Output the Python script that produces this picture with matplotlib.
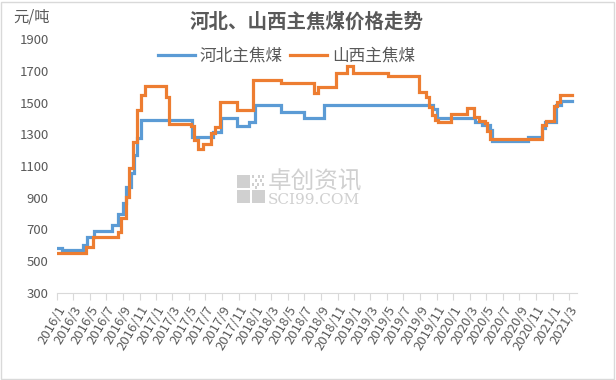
import matplotlib
matplotlib.use("Agg")
import matplotlib.pyplot as plt
import matplotlib.transforms as mtransforms
from matplotlib.patches import Rectangle
import pandas as pd

plt.rcParams['font.family'] = ['Noto Sans CJK SC', 'DejaVu Sans']

title = "河北、山西主焦煤价格走势"
unit = "元/吨"
series_names = ["河北主焦煤", "山西主焦煤"]

hebei_dates = ["2016-01-01", "2016-01-18", "2016-04-07", "2016-04-20", "2016-05-18",
               "2016-07-23", "2016-08-12", "2016-09-01", "2016-09-12", "2016-10-01",
               "2016-10-10", "2016-10-22", "2016-11-06", "2017-05-12", "2017-07-29",
               "2017-08-29", "2017-10-25", "2017-12-10", "2018-01-01", "2018-04-07",
               "2018-07-01", "2018-09-10", "2019-10-18", "2019-11-01", "2020-03-21",
               "2020-04-15", "2020-05-15", "2020-05-21", "2020-10-01", "2020-11-24",
               "2020-12-03", "2021-01-12", "2021-02-01", "2021-03-12"]
hebei_values = [580, 568, 600, 654, 690,
                725, 800, 864, 970, 1055,
                1170, 1275, 1390, 1281, 1317,
                1405, 1352, 1380, 1485, 1443,
                1401, 1482, 1458, 1401, 1380,
                1359, 1327, 1260, 1285, 1340,
                1380, 1485, 1512, 1512]

shanxi_dates = ["2016-01-01", "2016-04-18", "2016-05-12", "2016-08-12", "2016-08-24",
                "2016-09-12", "2016-09-24", "2016-10-06", "2016-10-22", "2016-11-06",
                "2016-11-21", "2017-02-06", "2017-02-18", "2017-05-09", "2017-05-21",
                "2017-06-03", "2017-06-21", "2017-07-23", "2017-08-05", "2017-08-23",
                "2017-10-25", "2017-12-25", "2018-04-07", "2018-08-04", "2018-08-22",
                "2018-10-25", "2018-12-04", "2018-12-28", "2019-05-07", "2019-08-28",
                "2019-09-22", "2019-10-04", "2019-10-16", "2019-10-25", "2019-11-07",
                "2019-12-25", "2020-02-21", "2020-03-16", "2020-04-04", "2020-04-28",
                "2020-05-04", "2020-05-16", "2020-11-24", "2020-12-07", "2021-01-07",
                "2021-01-19", "2021-01-28", "2021-03-12"]
shanxi_values = [549, 590, 654, 685, 770,
                 906, 1085, 1254, 1454, 1548,
                 1607, 1537, 1365, 1352, 1264,
                 1205, 1237, 1310, 1344, 1506,
                 1454, 1643, 1626, 1559, 1601,
                 1685, 1731, 1685, 1668, 1569,
                 1537, 1474, 1422, 1390, 1376,
                 1426, 1464, 1411, 1386, 1370,
                 1323, 1270, 1359, 1386, 1479,
                 1506, 1548, 1548]

tick_dates = pd.date_range("2016-01-01", "2021-03-01", freq="2MS")
y_ticks = [300, 500, 700, 900, 1100, 1300, 1500, 1700, 1900]

blue = "#5B9BD5"
orange = "#ED7D31"
txt = "#595959"

fig = plt.figure(figsize=(6.16, 3.80), dpi=100)
fig.patches.append(Rectangle((0.002, 0.003), 0.995, 0.993, transform=fig.transFigure,
                             fill=False, edgecolor="#d9d9d9", linewidth=1))

# watermark (behind the chart)
wm = "#d0d0d0"
def px_rect(x0, y0, w, h):
    fig.patches.append(Rectangle((x0 / 616, 1 - (y0 + h) / 380), w / 616, h / 380,
                                 transform=fig.transFigure, color=wm, lw=0, zorder=0))
px_rect(236.5, 175, 13, 13)
px_rect(236.5, 190, 13, 13)
px_rect(251.5, 190, 13, 13)
for (dx, dy) in [(0, 0), (6, 0), (10, 0), (3, 4), (8, 4), (0, 8), (5, 8), (10, 8), (3, 11)]:
    px_rect(251.5 + dx, 175 + dy, 2.6, 2.6)
fig.text(268 / 616, 1 - 182 / 380, "卓创资讯", ha="left", va="center", fontsize=17,
         color=wm, zorder=0)
fig.text(268 / 616, 1 - 199.5 / 380, "SCI99.COM", ha="left", va="center", fontsize=11,
         color=wm, family="DejaVu Serif", zorder=0)

ax = fig.add_axes([0.0925, 0.2297, 0.8442, 0.6669])
ax.set_facecolor("none")

ax.plot(pd.to_datetime(hebei_dates), hebei_values, drawstyle="steps-post",
        color=blue, lw=2.3, label=series_names[0], solid_joinstyle="miter")
ax.plot(pd.to_datetime(shanxi_dates), shanxi_values, drawstyle="steps-post",
        color=orange, lw=2.3, label=series_names[1], solid_joinstyle="miter")

ax.set_xlim(pd.Timestamp("2016-01-01"), pd.Timestamp("2021-04-01"))
ax.set_ylim(300, 1900)
ax.set_yticks(y_ticks)
ax.set_yticklabels([str(v) for v in y_ticks], color=txt, fontsize=9.5)
ax.set_xticks(tick_dates)
ax.set_xticklabels([f"{d.year}/{d.month}" for d in tick_dates], rotation=60,
                   ha="right", va="top", rotation_mode="anchor", color=txt, fontsize=9.5)
offset = mtransforms.ScaledTranslation(7 / 100, -6 / 100, fig.dpi_scale_trans)
for lab in ax.get_xticklabels():
    lab.set_transform(lab.get_transform() + offset)
ax.tick_params(axis="y", length=0, pad=6)
ax.tick_params(axis="x", length=5, color="#d9d9d9", pad=3)
for s in ["top", "right", "left"]:
    ax.spines[s].set_visible(False)
ax.spines["bottom"].set_color("#d9d9d9")

fig.text(0.498, 0.942, title, ha="center", va="center", fontsize=14,
         fontweight="bold", color=txt)
fig.text(0.022, 0.955, unit, ha="left", va="center", fontsize=11, color=txt)

leg = fig.legend(loc="center", bbox_to_anchor=(0.465, 0.853), ncol=2, frameon=False,
                 fontsize=12, handlelength=2.2, columnspacing=0.45, handletextpad=0.3)
for t in leg.get_texts():
    t.set_color(txt)

fig.savefig("out.png", dpi=100)
